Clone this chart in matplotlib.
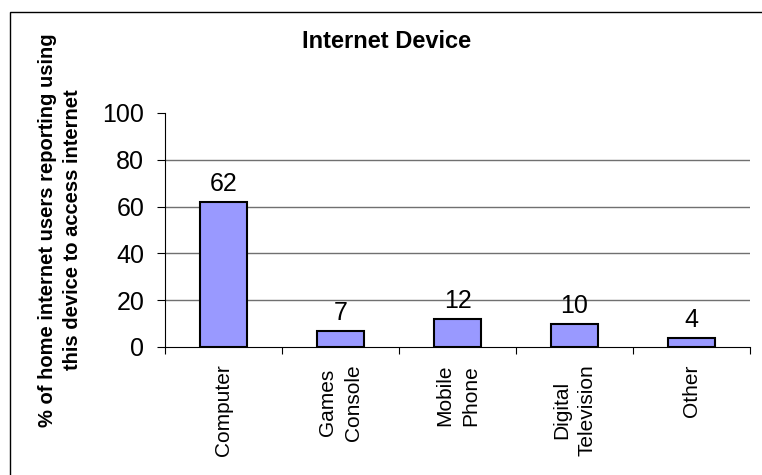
import matplotlib
matplotlib.use("Agg")
import matplotlib.pyplot as plt
from matplotlib.patches import Rectangle

# data
devices = ["Computer", "Games\nConsole", "Mobile\nPhone", "Digital\nTelevision", "Other"]
percent = [62, 7, 12, 10, 4]
y_ticks = [0, 20, 40, 60, 80, 100]

plt.rcParams["font.family"] = ["Liberation Sans", "DejaVu Sans"]

W, H = 762, 475
fig = plt.figure(figsize=(W / 100, H / 100), dpi=100)

# outer chart frame (runs off the right and bottom edges)
fig.patches.append(Rectangle((10 / W, -0.1), 1.1, 1 - 12 / H + 0.1,
                             transform=fig.transFigure, fill=False,
                             edgecolor="black", linewidth=1.0))

ax = fig.add_axes([165 / W, 1 - 347 / H, 585 / W, 234 / H])

x = list(range(len(devices)))
bars = ax.bar(x, percent, width=0.4, color="#9999FF", edgecolor="black",
              linewidth=1.5, zorder=3)

for xi, v in zip(x, percent):
    ax.annotate(str(v), (xi, v), xytext=(0, 4), textcoords="offset points",
                ha="center", va="bottom", fontsize=18)

ax.set_xlim(-0.5, len(devices) - 0.5)
ax.set_ylim(0, 100)
ax.set_yticks(y_ticks)
ax.set_yticklabels([str(t) for t in y_ticks], fontsize=18)
ax.tick_params(axis="y", length=6, width=0.8, pad=9, direction="out")

# categories between the boundary ticks
ax.set_xticks([i - 0.5 for i in range(len(devices) + 1)])
ax.set_xticklabels([])
ax.tick_params(axis="x", length=5, width=0.8, direction="out")
for xi, name in zip(x, devices):
    ax.text(xi, -7.5, name, rotation=90, ha="center", va="top",
            multialignment="center", fontsize=15, linespacing=1.45)

for t in y_ticks[1:-1]:
    ax.axhline(t, color="#707070", linewidth=1.0, zorder=1)

ax.spines["top"].set_visible(False)
ax.spines["right"].set_visible(False)
ax.spines["left"].set_linewidth(0.8)
ax.spines["bottom"].set_linewidth(0.8)
ax.spines["bottom"].set_zorder(4)

fig.text(387 / W, 1 - 42 / H, "Internet Device", ha="center", va="center",
         fontsize=17, fontweight="bold")
fig.text(60 / W, 1 - 230 / H,
         "% of home internet users reporting using\nthis device to access internet",
         rotation=90, ha="center", va="center", multialignment="center",
         fontsize=14.5, fontweight="bold", linespacing=1.35)

fig.savefig("out.png", dpi=100)
